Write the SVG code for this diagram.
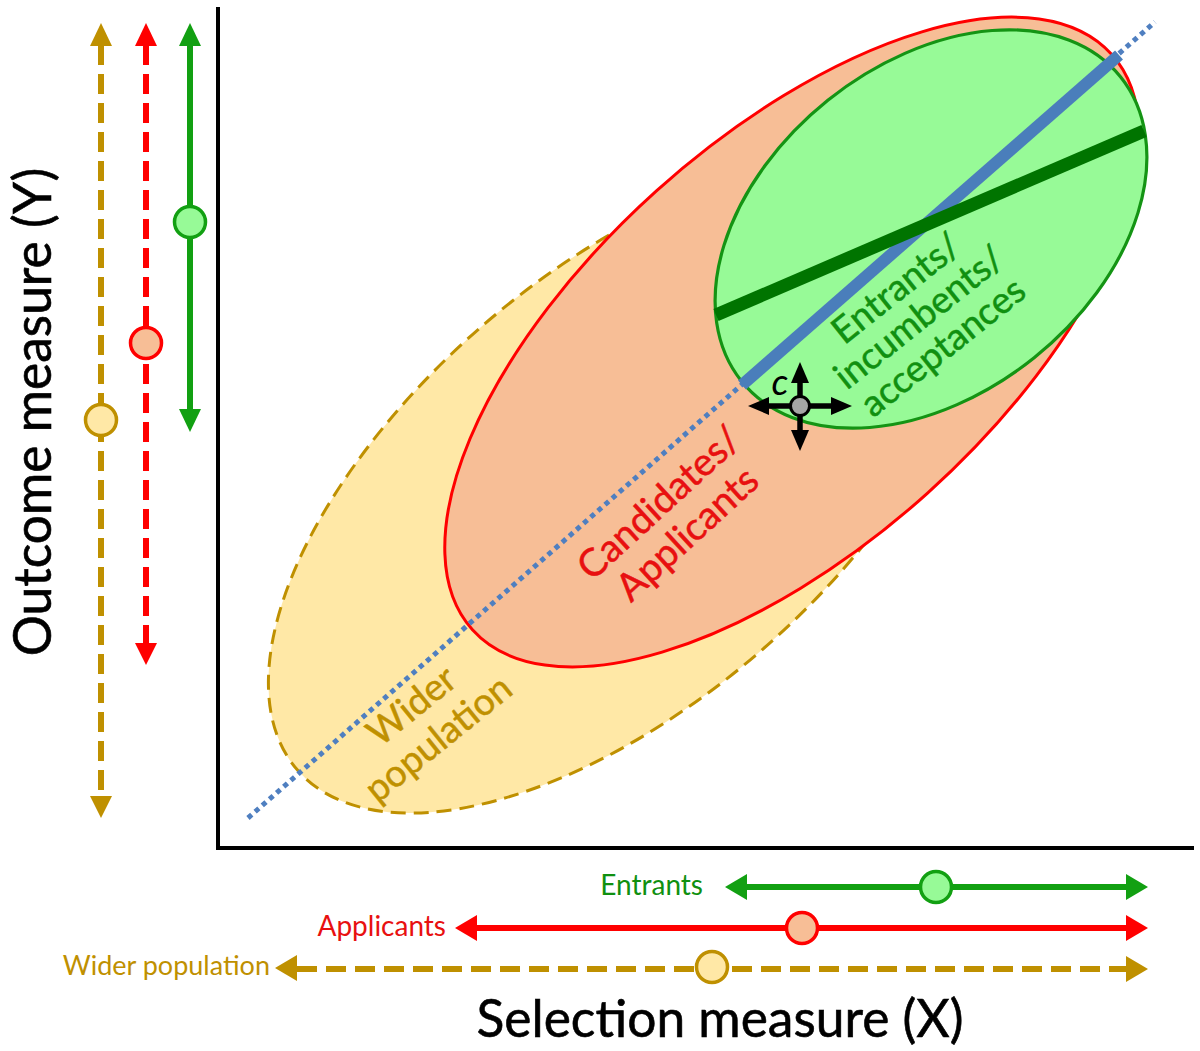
<svg xmlns="http://www.w3.org/2000/svg" width="1200" height="1051" viewBox="0 0 1200 1051">
<style>
  .t { font-family: Lato, "Open Sans", "Liberation Sans", sans-serif; }
  .gold { fill: #BF9000; }
  .red { fill: #E81010; }
  .grn { fill: #109010; }
  .goldS { stroke: #BF9000; }
  .redS { stroke: #FF0000; }
  .grnS { stroke: #12A012; }
  .shaft { stroke-width: 6; fill: none; }
  .dash { stroke-dasharray: 20 9; }
  .mark { stroke-width: 3.5; }
</style>
<rect width="1200" height="1051" fill="#FFFFFF"/>

<!-- axes -->
<g id="axes" stroke="#000" stroke-width="4" fill="none">
  <polyline points="218,7 218,848 1194,848"/>
</g>

<!-- populations -->
<g id="wider-population">
  <ellipse cx="622" cy="488" rx="430" ry="214" transform="rotate(-41 622 488)" fill="#FFE8A6" stroke="#BF9000" stroke-width="3" stroke-dasharray="15 8"/>
</g>
<g id="applicants">
  <ellipse cx="792" cy="342" rx="430" ry="203" transform="rotate(-42 792 342)" fill="#F7BE96" stroke="#FF0000" stroke-width="3"/>
</g>
<g id="entrants">
  <ellipse cx="931" cy="229" rx="243" ry="165" transform="rotate(-38.7 931 229)" fill="#97FA97" stroke="#149414" stroke-width="3.2"/>
</g>

<!-- regression lines -->
<g id="connectors">
  <line x1="248" y1="818" x2="1155" y2="22" stroke="#4F7FC0" stroke-width="5" stroke-dasharray="5 4.5"/>
  <line x1="742" y1="385" x2="1119" y2="55" stroke="#4A7EBB" stroke-width="12"/>
  <line x1="716" y1="315" x2="1144" y2="131" stroke="#007400" stroke-width="13"/>
</g>

<!-- ellipse labels -->
<g id="label-entrants" class="t grn" font-size="37" text-anchor="middle" stroke="#109010" stroke-width="0.5" transform="translate(927 327) rotate(-38.5)">
  <text x="0" y="-37">Entrants/</text>
  <text x="0" y="0">incumbents/</text>
  <text x="0" y="38">acceptances</text>
</g>
<g id="label-applicants" class="t red" font-size="38.5" text-anchor="middle" stroke="#E81010" stroke-width="0.5" transform="translate(682 528) rotate(-42.5)">
  <text x="0" y="-21">Candidates/</text>
  <text x="0" y="21">Applicants</text>
</g>
<g id="label-wider" class="t gold" font-size="37.5" text-anchor="middle" stroke="#BF9000" stroke-width="0.5" transform="translate(433 732) rotate(-39)">
  <text x="0" y="-21">Wider</text>
  <text x="0" y="21">population</text>
</g>

<!-- cut-off point c -->
<g id="cutoff">
  <g stroke="#000" stroke-width="5.5">
    <line x1="766" y1="406" x2="834" y2="406"/>
    <line x1="800" y1="380" x2="800" y2="433"/>
  </g>
  <g fill="#000">
    <polygon points="748,406 769,397 769,415"/>
    <polygon points="852,406 831,397 831,415"/>
    <polygon points="800,362 791,383 809,383"/>
    <polygon points="800,451 791,430 809,430"/>
  </g>
  <circle cx="800" cy="406" r="9.5" fill="#A6A6A6" stroke="#000" stroke-width="3"/>
  <text class="t" x="780" y="395" font-size="37" font-style="italic" text-anchor="middle" fill="#000">c</text>
</g>

<!-- vertical (Y) distributions -->
<g id="y-wider">
  <line class="shaft dash goldS" x1="101" y1="45" x2="101" y2="797"/>
  <polygon class="gold" points="101,23 90,46 112,46"/>
  <polygon class="gold" points="101,818 90,796 112,796"/>
  <circle class="mark goldS" cx="101" cy="420" r="15.5" fill="#FFE8A6"/>
</g>
<g id="y-applicants">
  <line class="shaft dash redS" x1="146" y1="45" x2="146" y2="644"/>
  <polygon fill="#FF0000" points="146,23 135,46 157,46"/>
  <polygon fill="#FF0000" points="146,665 135,643 157,643"/>
  <circle class="mark redS" cx="146" cy="343" r="15.5" fill="#F7BE96"/>
</g>
<g id="y-entrants">
  <line class="shaft grnS" x1="190" y1="44" x2="190" y2="411"/>
  <polygon fill="#12A012" points="190,23 179,46 201,46"/>
  <polygon fill="#12A012" points="190,432 179,409 201,409"/>
  <circle class="mark grnS" cx="190" cy="222" r="15.5" fill="#97FA97"/>
</g>

<!-- horizontal (X) distributions -->
<g id="x-entrants">
  <line class="shaft grnS" x1="745" y1="887" x2="1128" y2="887"/>
  <polygon fill="#12A012" points="725,887 747,874 747,900"/>
  <polygon fill="#12A012" points="1148,887 1126,874 1126,900"/>
  <circle class="mark grnS" cx="936" cy="887" r="15.5" fill="#97FA97"/>
  <text class="t grn" x="703" y="895" font-size="28" text-anchor="end">Entrants</text>
</g>
<g id="x-applicants">
  <line class="shaft redS" x1="476" y1="928" x2="1128" y2="928"/>
  <polygon fill="#FF0000" points="455,928 477,915 477,941"/>
  <polygon fill="#FF0000" points="1148,928 1126,915 1126,941"/>
  <circle class="mark redS" cx="802" cy="928" r="15.5" fill="#F7BE96"/>
  <text class="t red" x="446" y="936" font-size="28" text-anchor="end">Applicants</text>
</g>
<g id="x-wider">
  <line class="shaft dash goldS" x1="297" y1="969" x2="1128" y2="969"/>
  <polygon class="gold" points="275,968 297,955 297,981"/>
  <polygon class="gold" points="1148,969 1126,956 1126,982"/>
  <circle class="mark goldS" cx="712" cy="967" r="15.5" fill="#FFE8A6"/>
  <text class="t gold" x="270" y="975" font-size="27" text-anchor="end">Wider population</text>
</g>

<!-- axis titles -->
<text class="t" x="720" y="1037" font-size="51.5" text-anchor="middle" fill="#000" stroke="#000" stroke-width="0.6">Selection measure (X)</text>
<text class="t" transform="translate(51 412) rotate(-90)" x="0" y="0" font-size="51.5" text-anchor="middle" fill="#000" stroke="#000" stroke-width="0.6">Outcome measure (Y)</text>
</svg>
